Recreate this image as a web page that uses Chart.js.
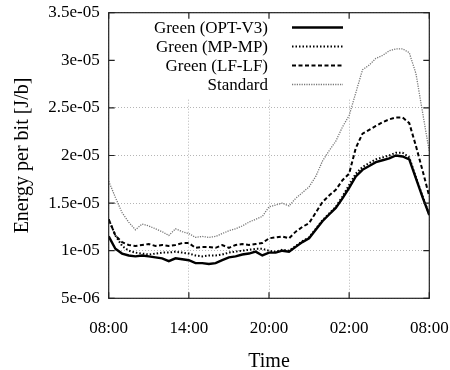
<!DOCTYPE html>
<html>
<head>
<meta charset="utf-8">
<script src="https://cdn.jsdelivr.net/npm/chart.js@4/dist/chart.umd.min.js"></script>
<style>
  html, body { margin: 0; padding: 0; background: #fff; }
</style>
</head>
<body>
<canvas id="chart" width="450" height="370"></canvas>
<script>
// hours after 08:00, values in units of 1e-5 J/b
const hours = [0, 0.5, 1, 1.5, 2, 2.5, 3, 3.5, 4, 4.5, 5, 5.5, 6, 6.5, 7, 7.5, 8, 8.5, 9, 9.5,
  10, 10.5, 11, 11.5, 12, 12.5, 13, 13.5, 14, 14.5, 15, 15.5, 16, 16.5, 17, 17.5, 18, 18.5, 19, 19.5,
  20, 20.5, 21, 21.5, 22, 22.5, 23, 23.5, 24];
const optV3 = [1.15, 1.02, 0.97, 0.95, 0.94, 0.95, 0.94, 0.93, 0.92, 0.89, 0.92, 0.91, 0.90, 0.87, 0.87, 0.86,
  0.87, 0.90, 0.93, 0.94, 0.96, 0.97, 0.99, 0.95, 0.98, 0.98, 1.00, 0.99, 1.04, 1.09, 1.13, 1.22,
  1.31, 1.38, 1.45, 1.55, 1.66, 1.78, 1.85, 1.89, 1.93, 1.95, 1.97, 2.00, 1.99, 1.96, 1.76, 1.56, 1.375];
const mpMp = [1.33, 1.16, 1.05, 1.00, 0.98, 0.97, 0.96, 0.97, 0.98, 0.98, 0.99, 0.98, 0.97, 0.95, 0.94, 0.95,
  0.95, 0.96, 0.98, 0.99, 1.00, 1.01, 1.02, 1.02, 1.00, 0.99, 1.01, 1.00, 1.05, 1.10, 1.14, 1.23,
  1.32, 1.39, 1.46, 1.57, 1.69, 1.81, 1.88, 1.92, 1.96, 1.98, 2.00, 2.03, 2.03, 1.98, 1.77, 1.57, 1.38];
const lfLf = [1.33, 1.16, 1.09, 1.06, 1.05, 1.06, 1.07, 1.05, 1.06, 1.05, 1.06, 1.08, 1.08, 1.03, 1.04, 1.04,
  1.03, 1.06, 1.03, 1.06, 1.07, 1.06, 1.07, 1.08, 1.13, 1.14, 1.15, 1.13, 1.20, 1.25, 1.29, 1.40,
  1.51, 1.58, 1.64, 1.74, 1.81, 2.08, 2.23, 2.27, 2.31, 2.35, 2.38, 2.40, 2.40, 2.34, 2.10, 1.84, 1.57];
const standard = [1.73, 1.56, 1.40, 1.30, 1.22, 1.28, 1.26, 1.23, 1.20, 1.16, 1.23, 1.20, 1.18, 1.14, 1.15, 1.14,
  1.15, 1.18, 1.21, 1.23, 1.26, 1.30, 1.33, 1.36, 1.46, 1.48, 1.50, 1.47, 1.55, 1.61, 1.67, 1.78,
  1.94, 2.05, 2.15, 2.30, 2.42, 2.66, 2.90, 2.95, 3.02, 3.05, 3.10, 3.12, 3.12, 3.08, 2.86, 2.45, 2.04];
const seriesNames = ['Green (OPT-V3)', 'Green (MP-MP)', 'Green (LF-LF)', 'Standard'];
const xTickLabels = ['08:00', '14:00', '20:00', '02:00', '08:00'];
const yTickLabels = ['5e-06', '1e-05', '1.5e-05', '2e-05', '2.5e-05', '3e-05', '3.5e-05'];
const unit = 1e-5;

const font = "'Liberation Serif', 'DejaVu Serif', serif";
const toPoints = arr => hours.map((h, i) => ({ x: h, y: arr[i] * unit }));

function line(label, arr, width, dash, color) {
  return {
    label: label,
    data: toPoints(arr),
    borderColor: color,
    borderWidth: width,
    borderDash: dash,
    pointRadius: 0,
    tension: 0,
    fill: false
  };
}

// gnuplot style frame, inward ticks and key box
const gnuplotBits = {
  id: 'gnuplotBits',
  beforeDatasetsDraw(chart) {
    const c = chart.ctx, a = chart.chartArea;
    c.save();
    c.fillStyle = '#fff';
    c.fillRect(a.left + 1, a.top + 1, a.right - a.left - 2, 97 - a.top);
    c.restore();
  },
  afterDraw(chart) {
    const c = chart.ctx, a = chart.chartArea;
    const xs = chart.scales.x, ys = chart.scales.y;
    c.save();
    c.strokeStyle = '#222';
    c.lineWidth = 1.2;
    c.setLineDash([]);
    c.strokeRect(a.left, a.top, a.right - a.left, a.bottom - a.top);
    c.beginPath();
    xs.ticks.forEach(t => {
      const px = xs.getPixelForValue(t.value);
      c.moveTo(px, a.bottom); c.lineTo(px, a.bottom - 6);
      c.moveTo(px, a.top); c.lineTo(px, a.top + 6);
    });
    ys.ticks.forEach(t => {
      const py = ys.getPixelForValue(t.value);
      c.moveTo(a.left, py); c.lineTo(a.left + 6, py);
      c.moveTo(a.right, py); c.lineTo(a.right - 6, py);
    });
    c.stroke();

    // key
    c.font = '17px ' + font;
    c.fillStyle = '#000';
    c.textAlign = 'right';
    c.textBaseline = 'middle';
    chart.data.datasets.forEach((ds, i) => {
      const y = 28.5 + i * 19;
      c.fillText(ds.label, 268, y);
      c.beginPath();
      c.strokeStyle = ds.borderColor;
      c.lineWidth = ds.borderWidth;
      c.setLineDash(ds.borderDash);
      c.moveTo(292, y - 1); c.lineTo(343, y - 1);
      c.stroke();
    });
    c.restore();
  }
};

const ctx = document.getElementById('chart').getContext('2d');
const chart = new Chart(ctx, {
  type: 'line',
  data: {
    datasets: [
      line(seriesNames[0], optV3, 2.4, [], '#000'),
      line(seriesNames[1], mpMp, 2, [1.5, 2], '#000'),
      line(seriesNames[2], lfLf, 2, [4, 2.5], '#000'),
      line(seriesNames[3], standard, 1.3, [1.2, 1.2], '#777')
    ]
  },
  options: {
    responsive: false,
    animation: false,
    layout: { padding: { top: 12.7, right: 20.7, left: 0, bottom: 0 } },
    plugins: { legend: { display: false }, tooltip: { enabled: false } },
    scales: {
      x: {
        type: 'linear',
        min: 0,
        max: 24,
        afterFit: s => {
          s.height = 370 - 298.3;
          s.paddingLeft = 0;
          s.paddingRight = 0;
        },
        ticks: {
          stepSize: 6,
          padding: 20.5,
          color: '#000',
          font: { family: font, size: 17 },
          maxRotation: 0,
          callback: (v, i) => xTickLabels[i]
        },
        grid: { color: '#b5b5b5', lineWidth: 1, drawTicks: false },
        border: { display: false, dash: [1, 2] },
        title: {
          display: true,
          text: 'Time',
          color: '#000',
          font: { family: font, size: 20 },
          padding: { top: 0, bottom: -3.8 }
        }
      },
      y: {
        type: 'linear',
        min: 0.5 * unit,
        max: 3.5 * unit,
        afterFit: s => {
          s.width = 108.7;
          s.paddingTop = 0;
          s.paddingBottom = 0;
        },
        ticks: {
          stepSize: 0.5 * unit,
          padding: 9,
          color: '#000',
          font: { family: font, size: 17 },
          callback: (v, i) => yTickLabels[i]
        },
        grid: { color: '#b5b5b5', lineWidth: 1, drawTicks: false },
        border: { display: false, dash: [1, 2] },
        title: {
          display: true,
          text: 'Energy per bit [J/b]',
          color: '#000',
          font: { family: font, size: 20 },
          padding: { top: 11, bottom: 0 }
        }
      }
    }
  },
  plugins: [gnuplotBits]
});
</script>
</body>
</html>
